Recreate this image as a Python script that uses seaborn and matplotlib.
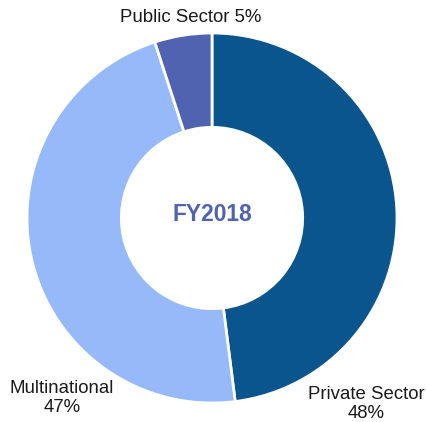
import matplotlib
matplotlib.use("Agg")
import matplotlib.pyplot as plt
import seaborn as sns

categories = ["Private Sector", "Multinational", "Public Sector"]
values = [48, 47, 5]
colors = ["#0b558f", "#96b9fa", "#4f63b1"]
center_label = "FY2018"

sns.set_theme(style="white")
plt.rcParams['font.family'] = ['Liberation Sans', 'DejaVu Sans']

fig = plt.figure(figsize=(4.27, 4.22), dpi=100)
ax = fig.add_axes([0, 0, 1, 1])

cx, cy, R = 212, 422 - 218, 185
pal = sns.color_palette(colors)
wedges, _ = ax.pie(values, colors=pal, startangle=90, counterclock=False,
                   center=(cx, cy), radius=R, frame=True,
                   wedgeprops=dict(width=R * 0.51, edgecolor='white', linewidth=2))
ax.set_xlim(0, 427)
ax.set_ylim(0, 422)
ax.set_aspect('equal')
ax.axis('off')

ax.text(cx, 422 - 215, center_label, ha='center', va='center', fontsize=16.4,
        fontweight='bold', color="#4f63b1")

fs = 13.4
ax.text(191, 422 - 17, f"{categories[2]} {values[2]}%", ha='center', va='center', fontsize=fs, color='#1a1a1a')
ax.text(62, 422 - 398, f"{categories[1]}\n{values[1]}%", ha='center', va='center', fontsize=fs,
        color='#1a1a1a', linespacing=1.2)
ax.text(366, 422 - 404, f"{categories[0]}\n{values[0]}%", ha='center', va='center', fontsize=fs,
        color='#1a1a1a', linespacing=1.2)

fig.savefig("out.png", dpi=100)
